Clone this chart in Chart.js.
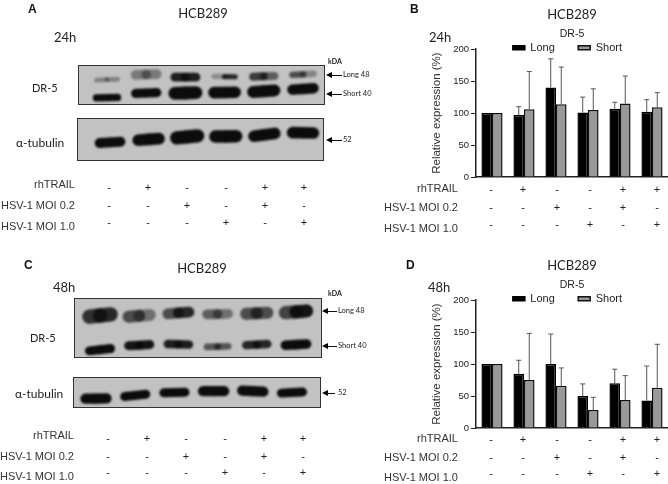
<!DOCTYPE html>
<html>
<head>
<meta charset="utf-8">
<title>HCB289 DR-5</title>
<script src="https://cdn.jsdelivr.net/npm/chart.js@4"></script>
<style>
html, body { margin: 0; background: #fff; }
#page { position: relative; width: 668px; height: 484px; overflow: hidden; }
.t { position: absolute; white-space: nowrap; color: #222; line-height: 1; will-change: transform; }
.blot { position: absolute; box-sizing: border-box; border: 1.5px solid #333; background: #c2c2c2; overflow: hidden; }
.blot canvas { filter: blur(1.1px); }
.plot { position: absolute; }
.shaft { position: absolute; height: 1px; background: #111; }
.head { position: absolute; width: 0; height: 0; border-top: 3px solid transparent; border-bottom: 3px solid transparent; border-right: 6px solid #000; }
</style>
</head>
<body>
<div id="page"></div>
<script>
// treatment rows
var rowNames = ["rhTRAIL", "HSV-1 MOI 0.2", "HSV-1 MOI 1.0"];
var rhTrail = ["-", "+", "-", "-", "+", "+"];
var moi02 = ["-", "-", "+", "-", "+", "-"];
var moi10 = ["-", "-", "-", "+", "-", "+"];

// panel B, 24h
var yTicks = [0, 50, 100, 150, 200];
var long24 = [100, 97, 140, 101, 107, 102];
var long24Top = [100, 110, 185, 125, 117, 121];
var short24 = [100, 106, 114, 105, 115, 109];
var short24Top = [100, 165, 172, 138, 158, 132];

// panel D, 48h
var long48 = [100, 85, 100, 50, 70, 43];
var long48Top = [100, 106, 147, 69, 92, 97];
var short48 = [100, 75, 66, 28, 44, 63];
var short48Top = [100, 148, 94, 48, 82, 131];

// blot bands: position down the membrane (% of box) at left/right of the lane, and darkness
var aLongYL = [38, 24, 30, 28, 29, 24];
var aLongYR = [36, 22, 30, 29, 27, 21];
var aLongDL = [.35, .4, .9, .3, .75, .65];
var aLongDR = [.35, .4, .9, .85, .55, .35];
var aLongThick = [12, 24, 22, 13, 20, 16];
var aShortYL = [86, 74, 74, 72, 70, 64];
var aShortYR = [85, 72, 72, 71, 66, 60];
var aShortD = [1, 1, 1, 1, 1, 1];
var aShortThick = [18, 23, 32, 29, 30, 26];

var aTubYL = [60, 53, 47, 44, 43, 34];
var aTubYR = [57, 49, 42, 43, 36, 35];
var aTubD = [1, 1, 1, 1, 1, 1];
var aTubThick = [23, 27, 31, 29, 27, 27];

var cLongYL = [31, 31, 26, 27, 26, 24];
var cLongYR = [27, 28, 23, 26, 24, 21];
var cLongDL = [.8, .65, .65, .55, .65, .7];
var cLongDR = [.85, .45, .85, .45, .65, .95];
var cLongThick = [24, 20, 18, 16, 20, 22];
var cShortYL = [91, 82, 79, 84, 81, 81];
var cShortYR = [87, 80, 80, 83, 79, 79];
var cShortD = [1, .95, .9, .6, .85, 1];
var cShortThick = [15, 15, 14, 11, 14, 16];

var cTubYL = [74, 66, 53, 47, 45, 54];
var cTubYR = [73, 58, 51, 47, 49, 50];
var cTubD = [1, 1, 1, 1, 1, 1];
var cTubThick = [33, 29, 29, 33, 33, 29];

var page = document.getElementById("page");
var lato = "Lato, 'Open Sans', sans-serif";
var arial = "'Liberation Sans', Arial, sans-serif";

function put(text, x, y, size, font, anchor, extra) {
    var el = document.createElement("div");
    el.className = "t";
    el.textContent = text;
    el.style.fontSize = size + "px";
    el.style.fontFamily = font;
    el.style.top = (y - size / 2) + "px";
    if (anchor == "right") {
        el.style.right = (668 - x) + "px";
    } else {
        el.style.left = x + "px";
        if (anchor == "center") el.style.transform = "translateX(-50%)";
    }
    if (extra) el.style.cssText += extra;
    page.appendChild(el);
}

function arrow(x1, x2, y) {
    var head = document.createElement("div");
    head.className = "head";
    head.style.left = x1 + "px";
    head.style.top = (y - 3) + "px";
    page.appendChild(head);
    var shaft = document.createElement("div");
    shaft.className = "shaft";
    shaft.style.left = (x1 + 5) + "px";
    shaft.style.width = (x2 - x1 - 5) + "px";
    shaft.style.top = y + "px";
    page.appendChild(shaft);
}

// three rows of labels and +/- signs under a panel
function treatments(labelRight, labelYs, signXs, signYs) {
    var rows = [rhTrail, moi02, moi10];
    for (var r = 0; r < 3; r++) {
        put(rowNames[r], labelRight, labelYs[r], 11, arial, "right", "color:#333");
        for (var i = 0; i < 6; i++) {
            put(rows[r][i], signXs[i], signYs[r], 11, arial, "center");
        }
    }
}

// one band, two strokes per lane so that left and right lobes differ
function bandSets(yL, yR, dL, dR, thick, boxH) {
    var sets = [];
    for (var i = 0; i < 6; i++) {
        var lane = i + 1;
        var w = thick[i] * boxH / 100;
        var yMid = (yL[i] + yR[i]) / 2;
        sets.push({ data: [{ x: lane - 0.27, y: yL[i] }, { x: lane, y: yMid }],
            borderColor: "rgba(12,12,12," + dL[i] + ")", borderWidth: w, borderCapStyle: "round" });
        sets.push({ data: [{ x: lane, y: yMid }, { x: lane + 0.27, y: yR[i] }],
            borderColor: "rgba(12,12,12," + dR[i] + ")", borderWidth: w, borderCapStyle: "round" });
    }
    return sets;
}

function blot(x, y, w, h, firstLane, pitch, bands) {
    var box = document.createElement("div");
    box.className = "blot";
    box.style.left = x + "px";
    box.style.top = y + "px";
    box.style.width = w + "px";
    box.style.height = h + "px";
    var c = document.createElement("canvas");
    c.width = w - 3;
    c.height = h - 3;
    box.appendChild(c);
    page.appendChild(box);
    var xMin = 1 - firstLane / pitch;
    new Chart(c, {
        type: "line",
        data: { datasets: bands },
        options: {
            responsive: false,
            animation: false,
            layout: { padding: 0 },
            elements: { point: { radius: 0 } },
            plugins: { legend: { display: false }, tooltip: { enabled: false } },
            scales: {
                x: { type: "linear", display: false, min: xMin, max: xMin + (w - 3) / pitch },
                y: { display: false, min: 0, max: 100, reverse: true }
            }
        }
    });
}

// whiskers above each bar, upper end only
var errorBars = {
    id: "errorBars",
    afterDatasetsDraw: function (chart) {
        var ctx = chart.ctx, y = chart.scales.y;
        ctx.save();
        ctx.strokeStyle = "#555";
        ctx.lineWidth = 1;
        chart.data.datasets.forEach(function (ds, i) {
            chart.getDatasetMeta(i).data.forEach(function (bar, j) {
                var top = y.getPixelForValue(ds.top[j]);
                if (ds.top[j] <= ds.data[j]) return;
                ctx.beginPath();
                ctx.moveTo(bar.x, bar.y);
                ctx.lineTo(bar.x, top);
                ctx.moveTo(bar.x - 2.5, top);
                ctx.lineTo(bar.x + 2.5, top);
                ctx.stroke();
            });
        });
        ctx.restore();
    }
};

// the legend sits on top of the plot's upper edge, so it only claims a little room
var tightLegend = {
    id: "tightLegend",
    beforeLayout: function (chart) {
        var lg = chart.legend;
        if (lg.pinned) return;
        var fit = lg.fit;
        lg.fit = function () { fit.call(this); this.height = 9; };
        lg.pinned = true;
    },
    beforeDraw: function (chart) {
        // legend clips to its own box when drawing
        chart.legend.height = 20;
        chart.legend.bottom = chart.legend.top + 20;
    }
};

function barPanel(top, longVals, longTop, shortVals, shortTop) {
    var wrap = document.createElement("div");
    wrap.className = "plot";
    wrap.style.left = "430px";
    wrap.style.top = top + "px";
    var c = document.createElement("canvas");
    c.width = 238;
    c.height = 189;
    wrap.appendChild(c);
    page.appendChild(wrap);
    new Chart(c, {
        type: "bar",
        data: {
            labels: rhTrail.map(function (s, i) { return i + 1; }),
            datasets: [
                { label: "Long\u00a0\u00a0\u00a0\u00a0\u00a0\u00a0\u00a0", data: longVals, top: longTop, backgroundColor: "#000", borderColor: "#000", borderWidth: 1.5 },
                { label: "Short\u00a0\u00a0\u00a0", data: shortVals, top: shortTop, backgroundColor: "#999", borderColor: "#111", borderWidth: 1.5 }
            ]
        },
        plugins: [errorBars, tightLegend],
        options: {
            responsive: false,
            animation: false,
            layout: { padding: { top: 5, bottom: 4 } },
            datasets: { bar: { barPercentage: 1, categoryPercentage: 0.66 } },
            plugins: {
                tooltip: { enabled: false },
                title: { display: true, text: "HCB289", fullSize: false, color: "#222",
                    font: { family: lato, size: 13, weight: "normal" }, padding: { top: 2, bottom: 5 } },
                subtitle: { display: true, text: "DR-5", fullSize: false, color: "#222",
                    font: { family: arial, size: 10.5, weight: "normal" }, padding: { top: 0, bottom: 0 } },
                legend: { position: "top", fullSize: false,
                    labels: { boxWidth: 12, boxHeight: 4, padding: 2, color: "#222", font: { family: arial, size: 11 } } }
            },
            scales: {
                x: { grid: { display: false }, ticks: { display: false },
                    border: { color: "#222", width: 1.5 } },
                y: {
                    min: 0, max: 200,
                    afterFit: function (s) { s.width = 46; },
                    afterBuildTicks: function (s) { s.ticks = yTicks.map(function (v) { return { value: v }; }); },
                    grid: { drawOnChartArea: false, color: "#222", tickLength: 5 },
                    border: { color: "#222", width: 1.5 },
                    ticks: { color: "#222", padding: 2, font: { family: arial, size: 9.5 } },
                    title: { display: true, text: "Relative expression (%)", color: "#333", padding: 0,
                        font: { family: arial, size: 11.5 } }
                }
            }
        }
    });
}

// panel A
put("A", 28, 9, 12, arial, "left", "font-weight:bold;color:#111");
put("HCB289", 203, 13, 13, lato, "center");
put("24h", 54, 37, 13, lato, "left");
put("kDA", 328, 61, 7, lato, "left", "font-weight:bold");
put("DR-5", 32, 87, 11, lato, "left");
put("\u03b1-tubulin", 16, 143, 12, lato, "left");
blot(78, 65, 247, 40, 28, 39.2,
    bandSets(aLongYL, aLongYR, aLongDL, aLongDR, aLongThick, 40)
        .concat(bandSets(aShortYL, aShortYR, aShortD, aShortD, aShortThick, 40)));
blot(77, 118, 247, 43, 32, 38.6, bandSets(aTubYL, aTubYR, aTubD, aTubD, aTubThick, 43));
arrow(326, 342, 75); put("Long 48", 343, 75, 7.5, lato, "left");
arrow(326, 342, 94); put("Short 40", 343, 94, 7.5, lato, "left");
arrow(326, 342, 140); put("52", 343, 140, 7.5, lato, "left");
treatments(75, [184, 205, 226], [109, 148, 187, 226, 265, 304], [187, 205, 222]);

// panel C
put("C", 24, 265, 12, arial, "left", "font-weight:bold;color:#111");
put("HCB289", 202, 268, 13, lato, "center");
put("48h", 53, 287, 13, lato, "left");
put("kDA", 328, 293, 7, lato, "left", "font-weight:bold");
put("DR-5", 30, 337, 11, lato, "left");
put("\u03b1-tubulin", 15, 394, 12, lato, "left");
blot(74, 298, 248, 60, 25, 39.2,
    bandSets(cLongYL, cLongYR, cLongDL, cLongDR, cLongThick, 60)
        .concat(bandSets(cShortYL, cShortYR, cShortD, cShortD, cShortThick, 60)));
blot(73, 377, 248, 31, 22, 39.2, bandSets(cTubYL, cTubYR, cTubD, cTubD, cTubThick, 31));
arrow(322, 337, 311); put("Long 48", 338, 311, 7.5, lato, "left");
arrow(322, 337, 346); put("Short 40", 338, 346, 7.5, lato, "left");
arrow(322, 335, 393); put("52", 338, 393, 7.5, lato, "left");
treatments(74, [435, 456, 476], [108, 147, 186, 225, 264, 303], [438, 456, 472]);

// panel B
put("B", 410, 9, 12, arial, "left", "font-weight:bold;color:#111");
put("24h", 429, 37, 13, lato, "left");
barPanel(0, long24, long24Top, short24, short24Top);
treatments(458, [188, 207, 228], [491, 523, 557, 590, 623, 657], [189, 207, 224]);

// panel D
put("D", 406, 265, 12, arial, "left", "font-weight:bold;color:#111");
put("48h", 428, 287, 13, lato, "left");
barPanel(251, long48, long48Top, short48, short48Top);
treatments(458, [438, 457, 477], [491, 523, 557, 590, 623, 657], [439, 457, 473]);
</script>
</body>
</html>
